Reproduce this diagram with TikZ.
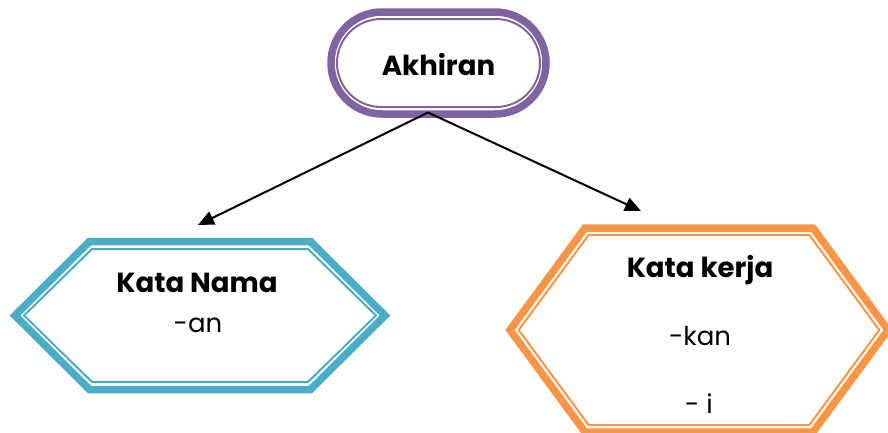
\documentclass[tikz,border=0pt]{standalone}
\usepackage{fontspec}
\setmainfont{Poppins}
\usetikzlibrary{arrows.meta}
\definecolor{purp}{HTML}{8064A2}
\definecolor{blu}{HTML}{4BACC6}
\definecolor{orng}{HTML}{F79646}
\tikzset{
  band/.style={line width=7.5*0.75pt, line join=miter},
  thin/.style={line width=2*0.75pt, line join=miter},
  lbl/.style={inner sep=0pt, anchor=base, font=\fontsize{19.5}{22}\selectfont},
  head/.style={lbl, font=\fontsize{20.7}{24}\selectfont\bfseries},
  conn/.style={line width=2*0.75pt, -{Triangle[length=16*0.75pt, width=14*0.75pt]}}
}
\begin{document}
\begin{tikzpicture}[x=0.75pt, y=-0.75pt]
\useasboundingbox (0,0) rectangle (888,432);
\clip (0,0) rectangle (888,432);
% Akhiran stadium
\draw[purp, band, rounded corners=51*0.75pt] (331,12) rectangle (546,114);
\draw[purp, thin, rounded corners=44*0.75pt] (337,19) rectangle (540,107);
\node[head] (akh) at (438.5,75) {Akhiran};
% Kata Nama hexagon
\draw[blu, band] (15,315.5) -- (89.5,241.5) -- (310.5,241.5) -- (385,315.5) -- (310.5,389.5) -- (89.5,389.5) -- cycle;
\draw[blu, thin] (24,315.5) -- (92,249) -- (308,249) -- (376,315.5) -- (308,382) -- (92,382) -- cycle;
\node[head] (kn) at (197,292) {Kata Nama};
\node[lbl] (an) at (198,332) {-an};
% Kata kerja hexagon
\draw[orng, band] (510,330) -- (585,228) -- (813,228) -- (888,330) -- (813,432) -- (585,432) -- cycle;
\draw[orng, thin] (518.7,330) -- (588.6,235) -- (809.4,235) -- (879.3,330) -- (809.4,425) -- (588.6,425) -- cycle;
\node[head] (kk) at (700,277) {Kata kerja};
\node[lbl] (kan) at (700,345) {-kan};
\node[lbl] (ki) at (699,413) {- i};
% connectors
\coordinate (src) at (428,112.5);
\coordinate (tl) at (198,225);
\coordinate (tr) at (641,211);
\draw[conn] (src) -- (tl);
\draw[conn] (src) -- (tr);
\end{tikzpicture}
\end{document}
